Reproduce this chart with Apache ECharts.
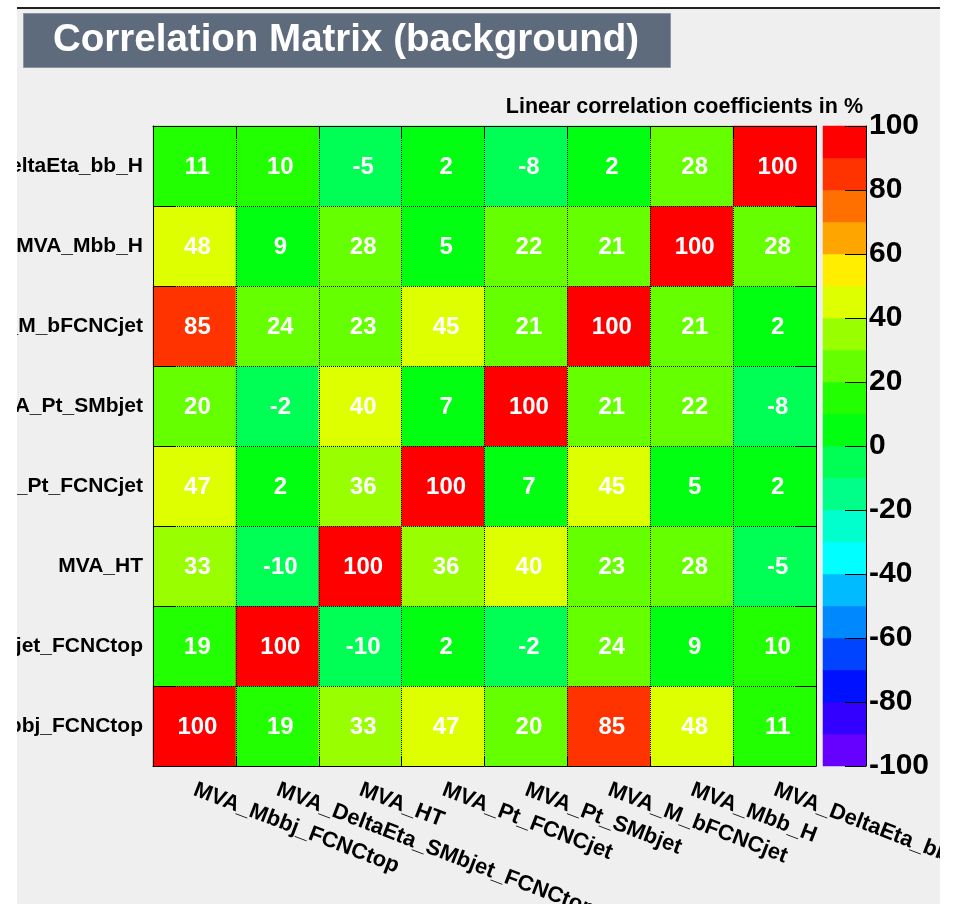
<!DOCTYPE html>
<html><head><meta charset="utf-8">
<script src="https://cdn.jsdelivr.net/npm/echarts@6/dist/echarts.min.js"></script>
<style>
html,body{margin:0;padding:0;background:#fff;width:955px;height:904px;overflow:hidden;}
#topline{position:absolute;left:17px;top:7px;width:923px;height:2px;background:#222;}
#chart{position:absolute;left:17px;top:9px;width:923px;height:895px;background:#efefef;}
</style></head><body>
<div id="topline"></div>
<div id="chart"></div>
<script>
// Variables (x categories left->right, y categories bottom->top)
const variables = ['MVA_Mbbj_FCNCtop', 'MVA_DeltaEta_SMbjet_FCNCtop', 'MVA_HT', 'MVA_Pt_FCNCjet',
  'MVA_Pt_SMbjet', 'MVA_M_bFCNCjet', 'MVA_Mbb_H', 'MVA_DeltaEta_bb_H'];

// Correlation rows in %, one per y variable (bottom -> top), values per x variable
const row_Mbbj_FCNCtop            = [100, 19, 33, 47, 20, 85, 48, 11];
const row_DeltaEta_SMbjet_FCNCtop = [19, 100, -10, 2, -2, 24, 9, 10];
const row_HT                      = [33, -10, 100, 36, 40, 23, 28, -5];
const row_Pt_FCNCjet              = [47, 2, 36, 100, 7, 45, 5, 2];
const row_Pt_SMbjet               = [20, -2, 40, 7, 100, 21, 22, -8];
const row_M_bFCNCjet              = [85, 24, 23, 45, 21, 100, 21, 2];
const row_Mbb_H                   = [48, 9, 28, 5, 22, 21, 100, 28];
const row_DeltaEta_bb_H           = [11, 10, -5, 2, -8, 2, 28, 100];
const correlationRows = [row_Mbbj_FCNCtop, row_DeltaEta_SMbjet_FCNCtop, row_HT, row_Pt_FCNCjet,
  row_Pt_SMbjet, row_M_bFCNCjet, row_Mbb_H, row_DeltaEta_bb_H];

// Colour palette bands (bottom -> top)
const bandEdges = [-100,-90,-80,-70,-60,-50,-40,-30,-20,-10,0,10,20,30,40,50,60,70,80,90,100];
const bandColors = ['#6600ff','#3300ff','#0011ff','#0044ff','#0088ff','#00bbff','#00ffff','#00ffcc',
  '#00ff88','#00ff55','#00ff11','#22ff00','#66ff00','#99ff00','#ddff00','#ffee00','#ffa500','#ff7000','#ff3300','#ff0000'];
const colorbarMin = -100, colorbarMax = 100, colorbarStep = 20;

const title = 'Correlation Matrix (background)';
const zTitle = 'Linear correlation coefficients in %';

const FONT = '"Liberation Sans", Arial, Helvetica, sans-serif';

const heatData = [];
correlationRows.forEach((row, yi) => row.forEach((v, xi) => heatData.push([xi, yi, v])));

const bandIdx = bandColors.map((c, i) => String(i));
const bandData = bandColors.map((c, i) => [0, i, (bandEdges[i] + bandEdges[i + 1]) / 2]);

const pieces = bandColors.map((c, i) => {
  const p = { gte: bandEdges[i], color: c };
  if (i === bandColors.length - 1) p.lte = bandEdges[i + 1]; else p.lt = bandEdges[i + 1];
  return p;
});

const G = { left: 136, top: 117, width: 663, height: 640 };
const CB = { left: 806, top: 117, width: 43, height: 640 };

const dotted = { show: true, interval: 0, lineStyle: { color: '#000', width: 1, type: 'dotted' } };

const chart = echarts.init(document.getElementById('chart'));
chart.setOption({
  animation: false,
  backgroundColor: '#efefef',
  grid: [
    { left: G.left, top: G.top, width: G.width, height: G.height, containLabel: false, outerBoundsMode: 'none' },
    { left: CB.left, top: CB.top, width: CB.width, height: CB.height, containLabel: false, outerBoundsMode: 'none' }
  ],
  graphic: [
    { type: 'rect', left: 6, top: 4, shape: { width: 647, height: 54 },
      style: { fill: '#5e6b7c', stroke: '#8a94a0', lineWidth: 1 } },
    { type: 'text', left: 36, top: 12,
      style: { text: title, fill: '#fff', font: 'bold 38.5px ' + FONT } },
    { type: 'text', right: 923 - 846, top: 87,
      style: { text: zTitle, fill: '#000', font: 'bold 21.5px ' + FONT, align: 'right' } }
  ],
  visualMap: {
    type: 'piecewise', show: false, dimension: 2, seriesIndex: [0, 1], pieces: pieces
  },
  xAxis: [
    { type: 'category', gridIndex: 0, data: variables, position: 'bottom', z: 5,
      axisLine: { show: true, lineStyle: { color: '#000', width: 1 } },
      axisTick: { show: true, inside: true, length: 10, interval: 0, lineStyle: { color: '#000' } },
      axisLabel: { interval: 0, rotate: -21, margin: 23, color: '#000', fontFamily: FONT, fontWeight: 'bold', fontSize: 22 },
      splitLine: dotted },
    { type: 'category', gridIndex: 0, data: variables, position: 'top', z: 5,
      axisLine: { show: true, lineStyle: { color: '#000', width: 1 } },
      axisTick: { show: true, inside: true, length: 12, interval: 0, lineStyle: { color: '#000' } },
      axisLabel: { show: false }, splitLine: { show: false } },
    { type: 'category', gridIndex: 1, data: [''], show: false }
  ],
  yAxis: [
    { type: 'category', gridIndex: 0, data: variables, position: 'left', z: 5,
      axisLine: { show: true, lineStyle: { color: '#000', width: 1 } },
      axisTick: { show: true, inside: true, length: 23, interval: 0, lineStyle: { color: '#000' } },
      axisLabel: { interval: 0, margin: 10, color: '#000', fontFamily: FONT, fontWeight: 'bold', fontSize: 21 },
      splitLine: dotted },
    { type: 'category', gridIndex: 0, data: variables, position: 'right', z: 5,
      axisLine: { show: true, lineStyle: { color: '#000', width: 1 } },
      axisTick: { show: true, inside: true, length: 20, interval: 0, lineStyle: { color: '#000' } },
      axisLabel: { show: false }, splitLine: { show: false } },
    { type: 'category', gridIndex: 1, data: bandIdx, show: false },
    { type: 'value', gridIndex: 1, position: 'right', min: colorbarMin, max: colorbarMax, interval: colorbarStep, z: 5,
      axisLine: { show: true, lineStyle: { color: '#000', width: 1 } },
      axisTick: { show: true, inside: true, length: 21, lineStyle: { color: '#000' } },
      axisLabel: { margin: 3, color: '#000', fontFamily: FONT, fontWeight: 'bold', fontSize: 30 },
      splitLine: { show: false } }
  ],
  series: [
    { type: 'heatmap', xAxisIndex: 0, yAxisIndex: 0, data: heatData,
      label: { show: true, color: '#fff', fontFamily: FONT, fontWeight: 'bold', fontSize: 24, offset: [3, 1],
        formatter: p => String(p.value[2]) },
      emphasis: { disabled: true } },
    { type: 'heatmap', xAxisIndex: 2, yAxisIndex: 2, data: bandData, label: { show: false },
      emphasis: { disabled: true } }
  ]
});
</script>
</body></html>
